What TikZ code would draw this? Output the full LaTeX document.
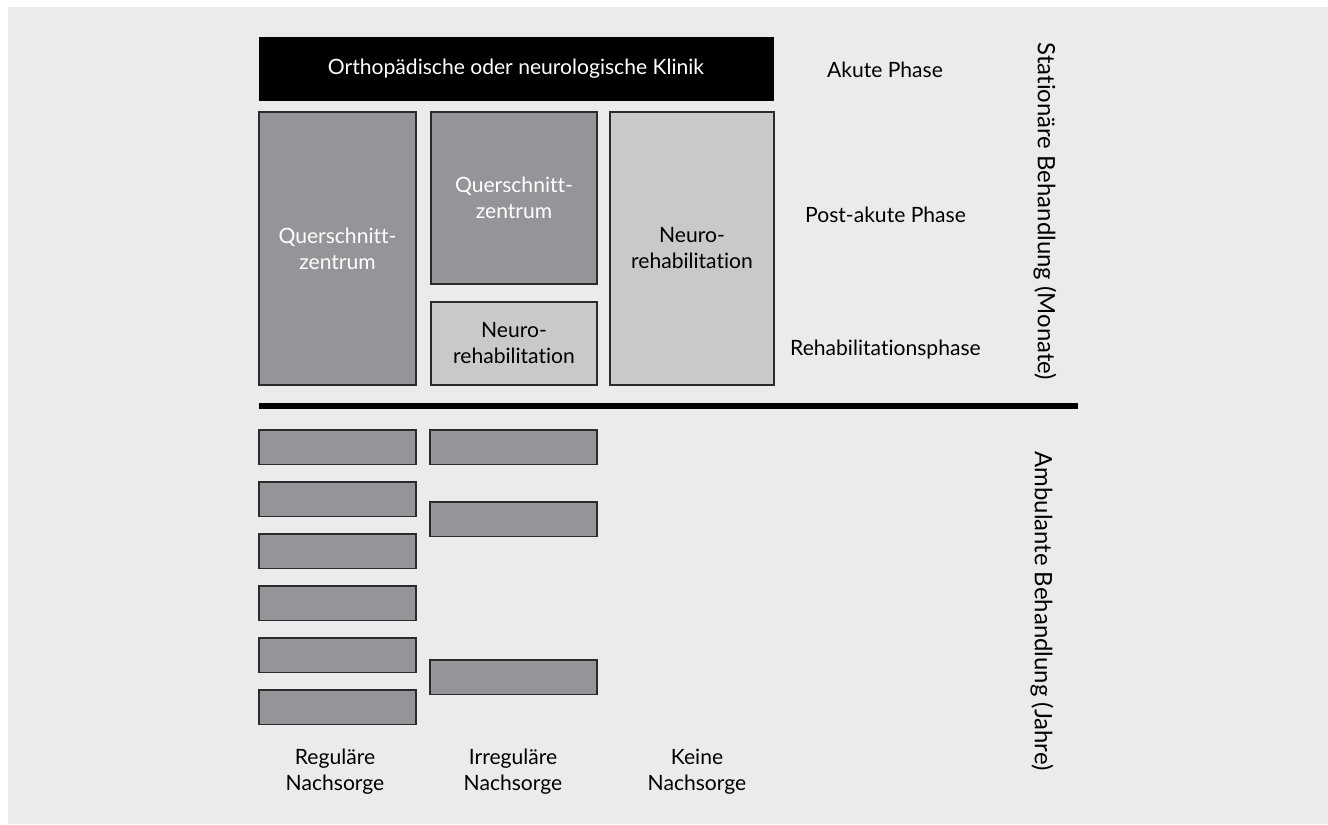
\documentclass[tikz,border=0pt]{standalone}
\usepackage{fontspec}
\setmainfont{Lato}[Ligatures={NoCommon}]
\definecolor{bggray}{HTML}{EBEBEB}
\definecolor{darkbox}{HTML}{939598}
\definecolor{lightbox}{HTML}{C8C9CB}
\definecolor{boxline}{HTML}{2B2B2B}
\begin{document}
\begin{tikzpicture}[
  every node/.style={font=\fontsize{12}{14.8}\selectfont},
  darkcell/.style={draw=boxline, line width=0.8pt, fill=darkbox, text=white, inner sep=0pt, align=center},
  lightcell/.style={draw=boxline, line width=0.8pt, fill=lightbox, text=black, inner sep=0pt, align=center},
  phase/.style={inner sep=0pt, align=center},
  achse/.style={inner sep=0pt, rotate=-90, font=\fontsize{13.6}{16}\selectfont}
]
  \useasboundingbox (0,0) rectangle (26.56,-16.48);
  \fill[bggray] (0.16,-0.14) rectangle (26.56,-16.48);

  % stationaer
  \node[fill=black, text=white, minimum width=10.30cm, minimum height=1.28cm, inner sep=0pt] (klinik) at (10.32,-1.38) {Orthopädische oder neurologische Klinik};
  \node[darkcell, minimum width=3.14cm, minimum height=5.46cm] (qzlinks) at (6.75,-4.97) {Querschnitt-\\zentrum};
  \node[darkcell, minimum width=3.32cm, minimum height=3.44cm] (qzmitte) at (10.28,-3.96) {Querschnitt-\\zentrum};
  \node[lightcell, minimum width=3.32cm, minimum height=1.66cm] (nrmitte) at (10.28,-6.87) {Neuro-\\rehabilitation};
  \node[lightcell, minimum width=3.28cm, minimum height=5.46cm] (nrrechts) at (13.84,-4.97) {Neuro-\\rehabilitation};

  \node[phase] (akut) at (17.70,-1.40) {Akute Phase};
  \node[phase] (postakut) at (17.71,-4.29) {Post-akute Phase};
  \node[phase] (reha) at (17.71,-6.99) {Rehabilitationsphase};
  \node[achse] (stationaer) at (20.90,-4.23) {Stationäre Behandlung (Monate)};

  \coordinate (trennL) at (5.18,-8.12);
  \coordinate (trennR) at (21.56,-8.12);
  \draw[line width=3.1pt] (trennL) -- (trennR);

  % ambulant
  \node[darkcell, minimum width=3.14cm, minimum height=0.69cm] (reg1) at (6.75,-8.945) {};
  \node[darkcell, minimum width=3.14cm, minimum height=0.69cm] (reg2) at (6.75,-9.985) {};
  \node[darkcell, minimum width=3.14cm, minimum height=0.69cm] (reg3) at (6.75,-11.025) {};
  \node[darkcell, minimum width=3.14cm, minimum height=0.69cm] (reg4) at (6.75,-12.065) {};
  \node[darkcell, minimum width=3.14cm, minimum height=0.69cm] (reg5) at (6.75,-13.105) {};
  \node[darkcell, minimum width=3.14cm, minimum height=0.69cm] (reg6) at (6.75,-14.145) {};
  \node[darkcell, minimum width=3.34cm, minimum height=0.69cm] (irr1) at (10.27,-8.945) {};
  \node[darkcell, minimum width=3.34cm, minimum height=0.69cm] (irr2) at (10.27,-10.385) {};
  \node[darkcell, minimum width=3.34cm, minimum height=0.69cm] (irr3) at (10.27,-13.545) {};

  \node[phase] (regulaer) at (6.70,-15.44) {Reguläre\\Nachsorge};
  \node[phase] (irregulaer) at (10.26,-15.44) {Irreguläre\\Nachsorge};
  \node[phase] (keine) at (13.94,-15.44) {Keine\\Nachsorge};
  \node[achse] (ambulant) at (20.84,-12.22) {Ambulante Behandlung (Jahre)};
\end{tikzpicture}
\end{document}
